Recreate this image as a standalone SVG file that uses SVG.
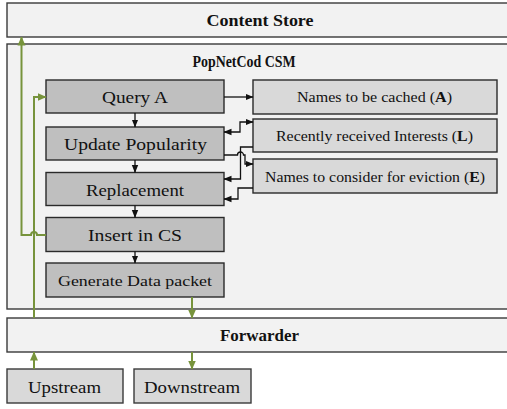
<svg xmlns="http://www.w3.org/2000/svg" width="507" height="409" viewBox="0 0 507 409">
<defs>
<style>
.outer{fill:#f2f2f2;stroke:#3a3a3a;stroke-width:1.4}
.step{fill:#bfbfbf;stroke:#2a2a2a;stroke-width:1.4}
.data{fill:#d9d9d9;stroke:#2a2a2a;stroke-width:1.4}
.io{fill:#d9d9d9;stroke:#3a3a3a;stroke-width:1.4}
text{fill:#111;text-anchor:middle}
.t{font-size:17px}
.b{font-size:16px;font-weight:bold}
.bt{font-size:16.5px;font-weight:bold}
.s{font-size:14px}
.blk{fill:none;stroke:#111;stroke-width:1.3}
.grn{fill:none;stroke:#77933c;stroke-width:2}
</style>
<marker id="ab" viewBox="0 0 8 8" refX="7.5" refY="4" markerWidth="8" markerHeight="8" markerUnits="userSpaceOnUse" orient="auto-start-reverse">
<path d="M0,0.8 L8,4 L0,7.2 z" fill="#111"/>
</marker>
<marker id="ag" viewBox="0 0 9 9" refX="8.5" refY="4.5" markerWidth="9" markerHeight="9" markerUnits="userSpaceOnUse" orient="auto-start-reverse">
<path d="M0,0.5 L9,4.5 L0,8.5 z" fill="#77933c"/>
</marker>
</defs>
<rect width="507" height="409" fill="#ffffff"/>

<g font-family="'Liberation Serif', 'DejaVu Serif', serif">
<g id="content-store">
<rect class="outer" x="7" y="3" width="512" height="34"/>
<text class="b" x="260" y="26" textLength="107" lengthAdjust="spacingAndGlyphs">Content Store</text>
</g>
<g id="csm">
<rect class="outer" x="7" y="44" width="512" height="265"/>
<text class="bt" x="244" y="67" textLength="103" lengthAdjust="spacingAndGlyphs">PopNetCod CSM</text>
</g>
<g id="forwarder">
<rect class="outer" x="7" y="318" width="512" height="34"/>
<text class="b" x="259.5" y="341" textLength="79" lengthAdjust="spacingAndGlyphs">Forwarder</text>
</g>
<g id="upstream">
<rect class="io" x="7" y="369" width="116" height="34"/>
<text class="t" x="64.5" y="392.5" textLength="73" lengthAdjust="spacingAndGlyphs">Upstream</text>
</g>
<g id="downstream">
<rect class="io" x="134" y="369" width="117" height="34"/>
<text class="t" x="192" y="392.5" textLength="96" lengthAdjust="spacingAndGlyphs">Downstream</text>
</g>

<g id="query-a">
<rect class="step" x="46" y="80" width="178" height="33"/>
<text class="t" x="135" y="103" textLength="66" lengthAdjust="spacingAndGlyphs">Query A</text>
</g>
<g id="update-popularity">
<rect class="step" x="46" y="127" width="178" height="33"/>
<text class="t" x="135.5" y="150" textLength="143" lengthAdjust="spacingAndGlyphs">Update Popularity</text>
</g>
<g id="replacement">
<rect class="step" x="46" y="172.5" width="178" height="33"/>
<text class="t" x="135" y="195.5" textLength="98" lengthAdjust="spacingAndGlyphs">Replacement</text>
</g>
<g id="insert-cs">
<rect class="step" x="46" y="217.5" width="178" height="34"/>
<text class="t" x="135" y="241" textLength="94" lengthAdjust="spacingAndGlyphs">Insert in CS</text>
</g>
<g id="generate-data">
<rect class="step" x="46" y="263" width="178" height="34"/>
<text x="135" y="285.5" font-size="15.5" textLength="154" lengthAdjust="spacingAndGlyphs">Generate Data packet</text>
</g>

<g id="names-cached">
<rect class="data" x="253" y="80" width="244" height="34"/>
<text class="s" x="374.5" y="101.5" textLength="155" lengthAdjust="spacingAndGlyphs">Names to be cached (<tspan font-weight="bold">A</tspan>)</text>
</g>
<g id="recent-interests">
<rect class="data" x="253" y="119" width="244" height="33"/>
<text class="s" x="374.5" y="140.5" textLength="197" lengthAdjust="spacingAndGlyphs">Recently received Interests (<tspan font-weight="bold">L</tspan>)</text>
</g>
<g id="names-eviction">
<rect class="data" x="253" y="159" width="244" height="34"/>
<text class="s" x="375" y="181.5" textLength="220" lengthAdjust="spacingAndGlyphs">Names to consider for eviction (<tspan font-weight="bold">E</tspan>)</text>
</g>
</g>

<g id="connectors">
<path class="blk" d="M135,113 V127" marker-end="url(#ab)"/>
<path class="blk" d="M135,160 V172.5" marker-end="url(#ab)"/>
<path class="blk" d="M135,205.5 V217.5" marker-end="url(#ab)"/>
<path class="blk" d="M135,251.5 V263" marker-end="url(#ab)"/>
<path class="blk" d="M224,97 H253" marker-end="url(#ab)"/>
<path class="blk" d="M224,132 H240 V122 H253" marker-start="url(#ab)" marker-end="url(#ab)"/>
<path class="blk" d="M253,147 H240.5 V179 H224" marker-end="url(#ab)"/>
<path class="blk" d="M224,155 H237.5 A3,3 0 0 1 243.5,155 H245 V164 H253" marker-end="url(#ab)"/>
<path class="blk" d="M253,188 H238 V199 H224" marker-end="url(#ab)"/>

<path class="grn" d="M46,235 H37 A3,3 0 0 0 31,235 H21.5 V37" marker-end="url(#ag)"/>
<path class="grn" d="M34,318 V97 H46" marker-end="url(#ag)"/>
<path class="grn" d="M192,297 V318" marker-end="url(#ag)"/>
<path class="grn" d="M192,352 V369" marker-end="url(#ag)"/>
<path class="grn" d="M34,369 V352" marker-end="url(#ag)"/>
</g>
</svg>
